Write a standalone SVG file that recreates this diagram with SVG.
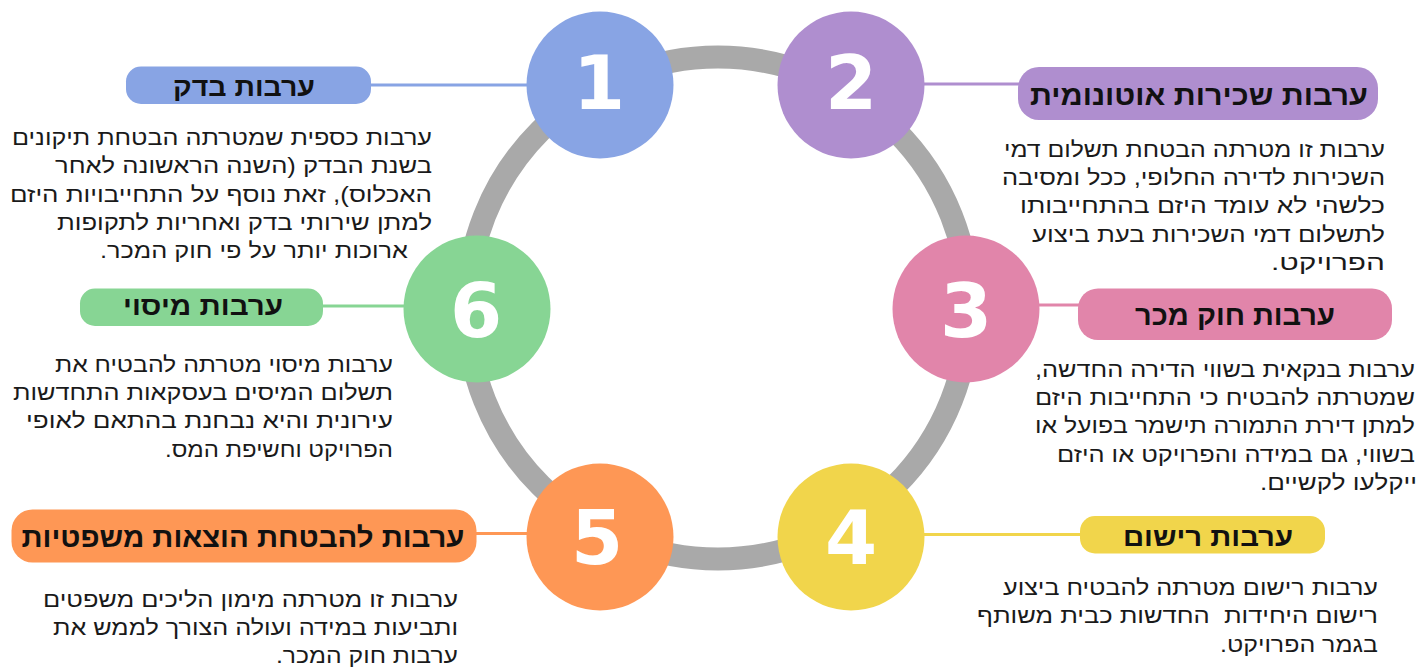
<svg xmlns="http://www.w3.org/2000/svg" width="1423" height="671" viewBox="0 0 1423 671">
<style>
.hd{font-family:"Liberation Sans","DejaVu Sans",sans-serif;font-weight:bold;fill:#111;text-anchor:middle;direction:rtl}
.bd{font-family:"Liberation Sans","DejaVu Sans",sans-serif;font-size:21.5px;fill:#1a1a1a;direction:rtl;text-anchor:start}
.num{font-family:"DejaVu Sans",sans-serif;font-weight:bold;font-size:75px;fill:#fff;text-anchor:middle}
.ln{stroke-width:3;fill:none}
</style>
<rect width="1423" height="671" fill="#fff"/>
<circle id="ring" cx="718" cy="308" r="251" fill="none" stroke="#a9a9a9" stroke-width="23"/>
<g id="connectors">
<line class="ln" x1="371" y1="85" x2="530" y2="85" stroke="#88a4e4"/>
<line class="ln" x1="920" y1="84" x2="1020" y2="84" stroke="#af8ecf"/>
<line class="ln" x1="1035" y1="305" x2="1080" y2="305" stroke="#e185aa"/>
<line class="ln" x1="920" y1="534.5" x2="1082" y2="534.5" stroke="#f1d54b"/>
<line class="ln" x1="474" y1="533.5" x2="530" y2="533.5" stroke="#fe9755"/>
<line class="ln" x1="321" y1="306" x2="408" y2="306" stroke="#87d594"/>
</g>
<g id="node1">
<circle cx="600" cy="85" r="73.5" fill="#88a4e4"/>
<text class="num" x="599" y="109">1</text>
<rect x="126" y="66.5" width="245" height="37.5" rx="15" fill="#88a4e4"/>
<text class="hd" x="244" y="96" font-size="26" textLength="142" lengthAdjust="spacingAndGlyphs">ערבות בדק</text>
<text class="bd" x="432" y="145" textLength="420" lengthAdjust="spacingAndGlyphs">ערבות כספית שמטרתה הבטחת תיקונים</text>
<text class="bd" x="432" y="173.3" textLength="377" lengthAdjust="spacingAndGlyphs">בשנת הבדק (השנה הראשונה לאחר</text>
<text class="bd" x="432" y="201.7" textLength="422" lengthAdjust="spacingAndGlyphs">האכלוס), זאת נוסף על התחייבויות היזם</text>
<text class="bd" x="432" y="230" textLength="375" lengthAdjust="spacingAndGlyphs">למתן שירותי בדק ואחריות לתקופות</text>
<text class="bd" x="408" y="258.3" textLength="308" lengthAdjust="spacingAndGlyphs">ארוכות יותר על פי חוק המכר.</text>
</g>
<g id="node2">
<circle cx="851" cy="85" r="73.5" fill="#af8ecf"/>
<text class="num" x="851" y="109">2</text>
<rect x="1018" y="67" width="360" height="53" rx="21" fill="#af8ecf"/>
<text class="hd" x="1199" y="105" font-size="28" textLength="338" lengthAdjust="spacingAndGlyphs">ערבות שכירות אוטונומית</text>
<text class="bd" x="1385" y="156.7" textLength="381" lengthAdjust="spacingAndGlyphs">ערבות זו מטרתה הבטחת תשלום דמי</text>
<text class="bd" x="1385" y="185" textLength="383" lengthAdjust="spacingAndGlyphs">השכירות לדירה החלופי, ככל ומסיבה</text>
<text class="bd" x="1385" y="213.3" textLength="365" lengthAdjust="spacingAndGlyphs">כלשהי לא עומד היזם בהתחייבותו</text>
<text class="bd" x="1385" y="241.7" textLength="353" lengthAdjust="spacingAndGlyphs">לתשלום דמי השכירות בעת ביצוע</text>
<text class="bd" x="1385" y="270" textLength="114" lengthAdjust="spacingAndGlyphs">הפרויקט.</text>
</g>
<g id="node3">
<circle cx="966" cy="309" r="73.5" fill="#e185aa"/>
<text class="num" x="966" y="337">3</text>
<rect x="1078" y="288.5" width="314" height="51.5" rx="20" fill="#e185aa"/>
<text class="hd" x="1235" y="325" font-size="28" textLength="200" lengthAdjust="spacingAndGlyphs">ערבות חוק מכר</text>
<text class="bd" x="1415" y="377.3" textLength="380" lengthAdjust="spacingAndGlyphs">ערבות בנקאית בשווי הדירה החדשה,</text>
<text class="bd" x="1415" y="405" textLength="380" lengthAdjust="spacingAndGlyphs">שמטרתה להבטיח כי התחייבות היזם</text>
<text class="bd" x="1415" y="433.3" textLength="380" lengthAdjust="spacingAndGlyphs">למתן דירת התמורה תישמר בפועל או</text>
<text class="bd" x="1415" y="461.7" textLength="358" lengthAdjust="spacingAndGlyphs">בשווי, גם במידה והפרויקט או היזם</text>
<text class="bd" x="1417" y="490" textLength="157" lengthAdjust="spacingAndGlyphs">ייקלעו לקשיים.</text>
</g>
<g id="node4">
<circle cx="851" cy="537" r="73.5" fill="#f1d54b"/>
<text class="num" x="851" y="564">4</text>
<rect x="1080" y="516" width="245" height="37.5" rx="15" fill="#f1d54b"/>
<text class="hd" x="1208" y="545.5" font-size="26" textLength="170" lengthAdjust="spacingAndGlyphs">ערבות רישום</text>
<text class="bd" x="1378" y="595" textLength="375" lengthAdjust="spacingAndGlyphs">ערבות רישום מטרתה להבטיח ביצוע</text>
<text class="bd" x="1378" y="623.3" textLength="401" lengthAdjust="spacingAndGlyphs" xml:space="preserve">רישום היחידות  החדשות כבית משותף</text>
<text class="bd" x="1378" y="651.7" textLength="158" lengthAdjust="spacingAndGlyphs">בגמר הפרויקט.</text>
</g>
<g id="node5">
<circle cx="600" cy="537" r="73.5" fill="#fe9755"/>
<text class="num" x="597" y="564">5</text>
<rect x="11.5" y="509.5" width="465" height="53" rx="21" fill="#fe9755"/>
<text class="hd" x="243" y="546.5" font-size="28" textLength="443" lengthAdjust="spacingAndGlyphs">ערבות להבטחת הוצאות משפטיות</text>
<text class="bd" x="458" y="606.7" textLength="415" lengthAdjust="spacingAndGlyphs">ערבות זו מטרתה מימון הליכים משפטים</text>
<text class="bd" x="458" y="635" textLength="405" lengthAdjust="spacingAndGlyphs">ותביעות במידה ועולה הצורך לממש את</text>
<text class="bd" x="458" y="663.3" textLength="182" lengthAdjust="spacingAndGlyphs">ערבות חוק המכר.</text>
</g>
<g id="node6">
<circle cx="477" cy="309" r="73.5" fill="#87d594"/>
<text class="num" x="476" y="337">6</text>
<rect x="80" y="288.5" width="243" height="37.5" rx="15" fill="#87d594"/>
<text class="hd" x="203" y="315" font-size="26" textLength="160" lengthAdjust="spacingAndGlyphs">ערבות מיסוי</text>
<text class="bd" x="393" y="371.7" textLength="338" lengthAdjust="spacingAndGlyphs">ערבות מיסוי מטרתה להבטיח את</text>
<text class="bd" x="393" y="400" textLength="380" lengthAdjust="spacingAndGlyphs">תשלום המיסים בעסקאות התחדשות</text>
<text class="bd" x="393" y="428.3" textLength="367" lengthAdjust="spacingAndGlyphs">עירונית והיא נבחנת בהתאם לאופי</text>
<text class="bd" x="393" y="456.7" textLength="228" lengthAdjust="spacingAndGlyphs">הפרויקט וחשיפת המס.</text>
</g>
</svg>
